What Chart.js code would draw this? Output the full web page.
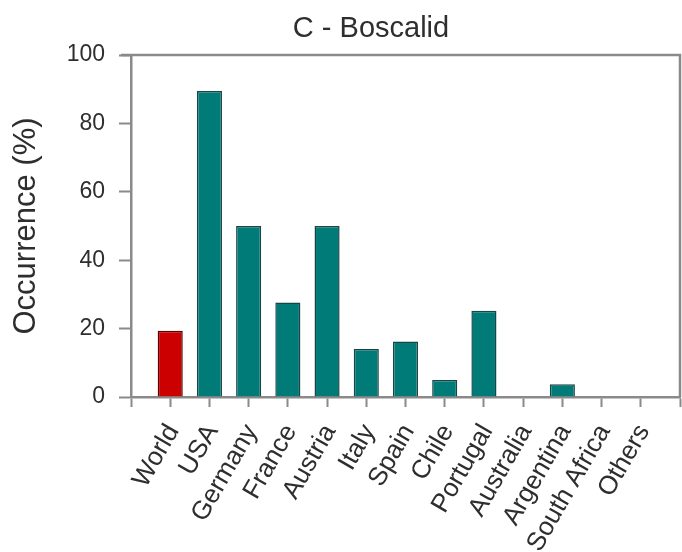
<!DOCTYPE html>
<html>
<head>
<meta charset="utf-8">
<script src="https://cdn.jsdelivr.net/npm/chart.js@4"></script>
<style>
  html, body { margin: 0; padding: 0; background: #fff; }
  #wrap { width: 682px; height: 552px; }
</style>
</head>
<body>
<div id="wrap"><canvas id="occChart" width="682" height="552"></canvas></div>
<script>
const categories = ['World', 'USA', 'Germany', 'France', 'Austria', 'Italy', 'Spain', 'Chile', 'Portugal', 'Australia', 'Argentina', 'South Africa', 'Others'];
const occurrence = [19.4, 89.5, 50, 27.6, 50, 14, 16.2, 5, 25.2, 0, 3.7, 0, 0];
const yTicks = [0, 20, 40, 60, 80, 100];
const chartTitle = 'C - Boscalid';
const yTitle = 'Occurrence (%)';

const FONT = "'Liberation Sans', Arial, Helvetica, sans-serif";
const AXIS = '#8a8a8a';
const TEXT = '#2e2e2e';

// top + right frame lines and the (off-centre) panel title
const frame = {
  id: 'frame',
  afterDraw(chart) {
    const { ctx, chartArea: a } = chart;
    ctx.save();
    ctx.strokeStyle = AXIS;
    ctx.lineWidth = 2.5;
    ctx.beginPath();
    ctx.moveTo(a.left - 10, a.top);
    ctx.lineTo(a.right, a.top);
    ctx.lineTo(a.right, a.bottom);
    ctx.stroke();
    ctx.fillStyle = TEXT;
    ctx.font = '29px ' + FONT;
    ctx.textAlign = 'center';
    ctx.textBaseline = 'alphabetic';
    ctx.fillText(chartTitle, 371, 37);
    ctx.restore();
  }
};

const points = occurrence.map((v, i) => ({ x: i + 1, y: v }));

new Chart(document.getElementById('occChart'), {
  type: 'bar',
  data: {
    datasets: [{
      data: points,
      backgroundColor: c => c.dataIndex === 0 ? '#cc0000' : '#007b78',
      borderColor: c => c.dataIndex === 0 ? '#5c0000' : '#164646',
      borderWidth: 1.5,
      barPercentage: 0.64,
      categoryPercentage: 1
    }]
  },
  options: {
    responsive: false,
    animation: false,
    layout: { padding: { left: 0, right: 2, top: 55, bottom: 0 } },
    plugins: {
      legend: { display: false },
      tooltip: { enabled: false },
      title: { display: false }
    },
    scales: {
      x: {
        type: 'linear',
        offset: false,
        min: 0,
        max: categories.length + 1,
        afterFit: s => {
          s.height = 155;
          s.paddingLeft = 0;
          s.paddingRight = 0;
        },
        border: { color: AXIS, width: 2.5 },
        grid: { offset: false, drawOnChartArea: false, drawTicks: true, tickLength: 10, tickColor: AXIS, tickWidth: 2 },
        ticks: {
          stepSize: 1,
          autoSkip: false,
          minRotation: 60,
          maxRotation: 60,
          padding: 12,
          labelOffset: 3,
          color: TEXT,
          font: { family: FONT, size: 26 },
          callback: v => categories[v - 1] || ''
        }
      },
      y: {
        min: 0,
        max: 100,
        afterFit: s => { s.width = 131; },
        afterBuildTicks: s => { s.ticks = yTicks.map(v => ({ value: v })); },
        border: { color: AXIS, width: 2.5 },
        grid: { drawOnChartArea: false, drawTicks: true, tickLength: 12, tickColor: AXIS, tickWidth: 2 },
        ticks: {
          padding: 14,
          color: TEXT,
          font: { family: FONT, size: 23 }
        },
        title: {
          display: true,
          text: yTitle,
          color: TEXT,
          font: { family: FONT, size: 31 },
          padding: { top: 8, bottom: 0 }
        }
      }
    }
  },
  plugins: [frame]
});
</script>
</body>
</html>
